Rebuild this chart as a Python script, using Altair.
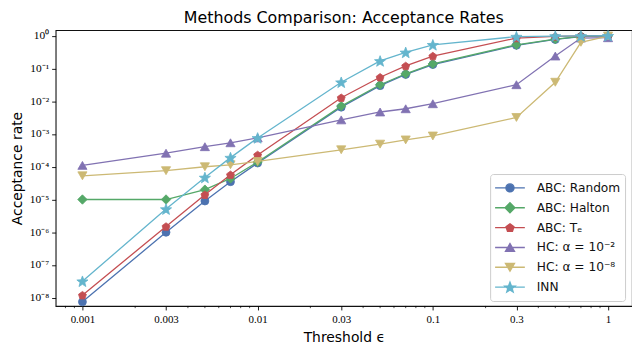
import math
import altair as alt
import pandas as pd

# ---------------- data ----------------
x_vals = [0.001, 0.003, 0.005, 0.007, 0.01, 0.03, 0.05, 0.07, 0.1, 0.3, 0.5, 0.7, 1.0]

abc_random = [7.5e-9, 1.0e-6, 9.0e-6, 3.5e-5, 1.3e-4, 6.6e-3, 3.0e-2, 6.6e-2, 1.32e-1, 5.1e-1, 7.7e-1, 9.4e-1, 1.0]
abc_halton = [1.0e-5, 1.0e-5, 2.0e-5, 4.4e-5, 1.4e-4, 7.1e-3, 3.2e-2, 6.9e-2, 1.38e-1, 5.3e-1, 7.9e-1, 9.6e-1, 1.0]
abc_te = [1.2e-8, 1.5e-6, 1.4e-5, 5.7e-5, 2.3e-4, 1.28e-2, 5.4e-2, 1.2e-1, 2.4e-1, 8.5e-1, 9.5e-1, 9.9e-1, 1.0]
hc_1e2 = [1.1e-4, 2.6e-4, 4.1e-4, 5.4e-4, 7.6e-4, 2.7e-3, 4.7e-3, 5.9e-3, 8.4e-3, 3.2e-2, 2.4e-1, 8.5e-1, 8.7e-1]
hc_1e8 = [5.3e-5, 7.6e-5, 1.0e-4, 1.15e-4, 1.45e-4, 3.3e-4, 4.9e-4, 6.6e-4, 8.7e-4, 3.2e-3, 3.8e-2, 6.3e-1, 9.8e-1]
inn = [3.2e-8, 5.1e-6, 4.7e-5, 1.9e-4, 7.6e-4, 3.8e-2, 1.7e-1, 3.1e-1, 5.3e-1, 9.4e-1, 9.8e-1, 9.9e-1, 1.0]

series_names = ["ABC: Random", "ABC: Halton", "ABC: Tₑ", "HC: α = 10⁻²", "HC: α = 10⁻⁸", "INN"]
series_values = [abc_random, abc_halton, abc_te, hc_1e2, hc_1e8, inn]
colors = ["#4C72B0", "#55A868", "#C44E52", "#8172B2", "#CCB974", "#64B5CD"]

x_ticks = [0.001, 0.003, 0.01, 0.03, 0.1, 0.3, 1]
y_ticks = [1e-8, 1e-7, 1e-6, 1e-5, 1e-4, 1e-3, 1e-2, 1e-1, 1]
y_tick_text = ["10⁰", "10⁻¹", "10⁻²", "10⁻³", "10⁻⁴", "10⁻⁵", "10⁻⁶", "10⁻⁷", "10⁻⁸"]
minor_x = [k * 10.0 ** e for e in (-4, -3, -2, -1) for k in range(2, 10)
           if k != 3 and 0.00072 < k * 10.0 ** e < 1.35]

# ---------------- marker shapes ----------------
def poly(points, s=1.0, dx=0.0):
    return "M" + "L".join(f"{p[0]*s+dx:.3f},{p[1]*s:.3f}" for p in points) + "Z"

pent_pts = [(math.cos(math.radians(-90 + 72 * i)), math.sin(math.radians(-90 + 72 * i)) + 0.1) for i in range(5)]
star_pts = [((1.0 if i % 2 == 0 else 0.42) * math.cos(math.radians(-90 + 36 * i)),
             (1.0 if i % 2 == 0 else 0.42) * math.sin(math.radians(-90 + 36 * i)) + 0.1) for i in range(10)]
diamond_pts = [(-1, 0), (0, -1), (1, 0), (0, 1)]
tri_up_pts = [(0, -0.866), (1, 0.866), (-1, 0.866)]
tri_dn_pts = [(0, 0.866), (1, -0.866), (-1, -0.866)]

def circle_path(s):
    return f"M{-s},0A{s},{s},0,1,0,{s},0A{s},{s},0,1,0,{-s},0Z"

plot_shapes = ["circle", "diamond", poly(pent_pts), "triangle-up", "triangle-down", poly(star_pts)]
plot_sizes = [64, 90, 70, 85, 85, 140]

LINE = "M-1,0L1,0"
legend_paths = [
    LINE + circle_path(0.27),
    LINE + poly(diamond_pts, 0.33),
    LINE + poly(pent_pts, 0.28),
    LINE + poly(tri_up_pts, 0.3),
    LINE + poly(tri_dn_pts, 0.3),
    LINE + poly(star_pts, 0.36),
]

# ---------------- layout ----------------
W, H = 581, 278
xscale = alt.Scale(type="log", domain=[0.000703, 1.37], nice=False)
yscale = alt.Scale(type="log", domain=[10 ** -8.25, 10 ** 0.17], nice=False)

x_axis = alt.Axis(
    values=x_ticks, format="~g", title="Threshold ϵ", grid=False, domain=False,
    labelFont="Liberation Serif", labelFontSize=11, labelColor="#000", labelPadding=4,
    labelFlush=False, labelOverlap=False,
    tickSize=4, tickColor="#000", tickWidth=0.9,
    titleFont="DejaVu Sans", titleFontSize=14, titleFontWeight="normal", titleColor="#000",
    minExtent=22, maxExtent=22, titlePadding=3,
)
label_expr = "[" + ",".join(f"'{t}'" for t in y_tick_text) + "][round(-log(datum.value)/LN10)]"
y_axis = alt.Axis(
    values=y_ticks, labelExpr=label_expr, title="Acceptance rate", grid=False, domain=False,
    labelFont="Liberation Serif", labelFontSize=11.5, labelColor="#000", labelPadding=3,
    labelOverlap=False, labelFlush=False,
    tickSize=4, tickColor="#000", tickWidth=0.9,
    titleFont="DejaVu Sans", titleFontSize=14, titleFontWeight="normal", titleColor="#000",
    minExtent=28, maxExtent=28, titlePadding=3,
)

layers = []
for name, vals, col, shp, sz in zip(series_names, series_values, colors, plot_shapes, plot_sizes):
    df = pd.DataFrame({"x": x_vals, "y": vals})
    xe = alt.X("x:Q", scale=xscale, axis=x_axis)
    ye = alt.Y("y:Q", scale=yscale, axis=y_axis)
    base = alt.Chart(df)
    layers.append(base.mark_line(strokeWidth=1.3).encode(x=xe, y=ye, color=alt.value(col)))
    layers.append(base.mark_point(filled=True, opacity=1, size=sz, shape=shp, strokeWidth=0.8).encode(
        x=xe, y=ye, fill=alt.value(col), stroke=alt.value(col)))

# minor ticks on x
minor = alt.Chart(pd.DataFrame({"x": minor_x})).mark_rule(color="#000", strokeWidth=0.7).encode(
    x=alt.X("x:Q", scale=xscale, axis=x_axis), y=alt.value(H), y2=alt.value(H + 2.2))
layers.append(minor)

# legend-only layer (marks clipped away)
leg = alt.Legend(
    title=None, orient="none", legendX=438, legendY=145,
    fillColor="rgba(255,255,255,0.85)", strokeColor="#cccccc", cornerRadius=3, padding=4,
    clipHeight=20, rowPadding=0, symbolSize=900, symbolStrokeWidth=1.4,
    symbolOffset=0, labelOffset=11,
    labelFont="DejaVu Sans", labelFontSize=12.3, labelColor="#111",
)
leg_df = pd.DataFrame({"series": series_names})
legend_layer = alt.Chart(leg_df).mark_point(filled=True, opacity=1, clip=True, size=60).encode(
    x=alt.value(-60), y=alt.value(-60),
    fill=alt.Fill("series:N", scale=alt.Scale(domain=series_names, range=colors), legend=leg),
    stroke=alt.Stroke("series:N", scale=alt.Scale(domain=series_names, range=colors), legend=leg),
    shape=alt.Shape("series:N", scale=alt.Scale(domain=series_names, range=legend_paths), legend=leg),
)
layers.append(legend_layer)

chart = alt.layer(*layers).properties(
    width=W, height=H,
    padding={"left": 3, "top": 0, "right": 0, "bottom": 0},
    title=alt.TitleParams("Methods Comparison: Acceptance Rates", font="DejaVu Sans", fontSize=16,
                          fontWeight="normal", color="#000", anchor="middle", offset=3),
).configure(background="white", view=alt.ViewConfig(stroke="#111", strokeWidth=1.1))

chart.save("out.html", embed_options={"renderer": "svg", "actions": False})
